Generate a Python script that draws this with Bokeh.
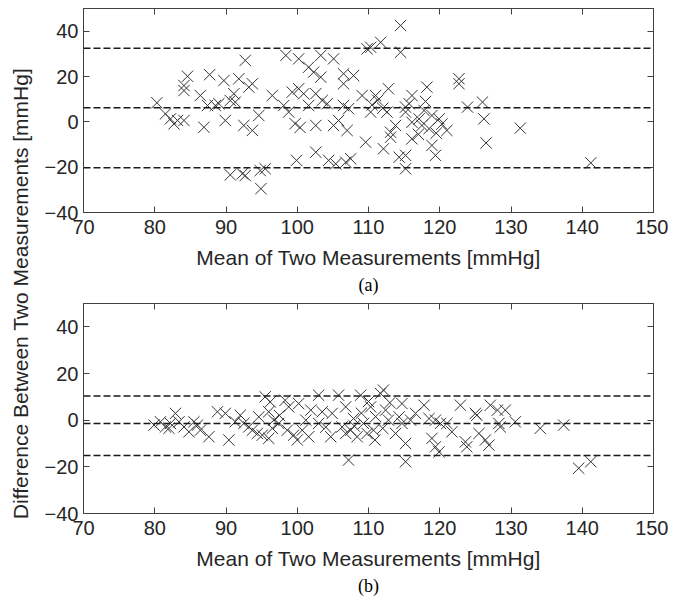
import numpy as np
from bokeh.plotting import figure
from bokeh.models import Range1d, FixedTicker, LinearAxis, Span, Title, CustomJSTickFormatter, Label
from bokeh.layouts import column, row
from bokeh.embed import file_html
from bokeh.resources import INLINE

# ---- data (a) ----
a_mean = [80.3, 81.5, 82.2, 82.7, 84.1, 84.6, 84.1, 84.1, 83.2, 86.9, 86.4, 87.4, 87.7, 88.5, 89.0,
          89.7, 89.9, 90.6, 91.1, 91.8, 91.3, 90.6, 92.3, 92.5, 92.7, 92.7, 93.2, 93.7, 93.7, 94.6,
          94.8, 95.5, 94.9, 96.5, 98.1, 98.4, 98.8, 99.3, 99.9, 99.7, 100.2, 100.2, 100.4,
          101.6, 102.3, 103.3, 103.3, 101.6, 100.9, 102.6, 103.5, 104.2, 102.6, 102.6, 105.1, 104.4,
          105.4, 105.1, 105.8, 106.5, 106.5, 107.9, 106.5, 107.2, 107.0, 106.8, 107.5, 109.1, 109.6,
          110.3, 109.8, 110.3, 111.7, 111.0, 112.1, 112.8, 112.6, 113.1, 114.5, 114.5, 114.3, 115.2,
          115.2, 113.8, 115.7, 116.1, 115.2, 116.1, 117.1, 117.5, 118.2, 118.9, 118.9, 119.4, 119.9,
          116.1, 113.1, 115.2, 121.0, 122.7, 122.7, 123.9, 126.0, 126.2, 126.5, 131.3, 141.2,
          117.8, 118.5, 117.0, 119.5, 120.3, 118.0, 110.5, 111.3, 112.0]
a_diff = [8.4, 3.5, 1.3, -0.9, 0.6, 20.1, 16.0, 13.8, 0.6, -2.4, 11.6, 7.2, 20.8, 7.2, 8.0,
          18.2, 0.6, 9.4, 12.4, 19.0, 8.7, -23.4, -22.9, -1.6, -23.7, 27.1, 15.3, 16.8, -3.8, 2.8,
          -21.5, -20.7, -29.5, 11.6, 7.2, 29.3, 4.3, 13.1, -17.0, -0.8, 27.8, 14.6, -2.5,
          24.1, 21.9, 29.3, 19.7, 7.2, 12.4, 12.4, 9.4, 8.0, -1.6, -13.4, 27.8, -17.0,
          -18.5, -1.6, 0.6, 21.2, 16.8, 20.4, 7.2, 5.8, -3.8, -17.8, -16.3, 11.6, -9.0,
          4.3, 32.2, 32.9, 35.1, 11.6, -11.9, 14.6, 4.3, -4.6, 42.5, 30.7, -15.6, -14.8,
          -20.7, -1.6, 8.0, 11.6, 4.3, -0.2, 1.3, -1.6, 15.3, 2.8, -10.4, -14.8, 1.3,
          -7.5, -6.8, 6.5, -3.8, 19.0, 16.8, 6.5, 8.7, 1.3, -9.3, -2.8, -18.1,
          5.0, -3.0, -5.5, -5.0, -1.0, 9.0, 7.5, 9.5, 6.0]
a_limits = [32.5, 6.2, -20.3]

# ---- data (b) ----
b_mean = [79.9, 80.8, 81.5, 82.2, 82.9, 82.0, 83.4, 84.1, 84.8, 85.5, 86.0, 86.4, 87.6, 88.8, 89.9,
          90.4, 91.3, 92.0, 92.5, 93.2, 93.7, 94.4, 95.1, 96.0, 95.5, 96.2, 94.6, 96.0, 96.7, 97.4,
          98.3, 98.8, 98.6, 99.5, 100.2, 100.7, 101.2, 101.9, 103.0, 103.0, 104.7, 105.8, 104.9,
          106.8, 107.2, 107.5, 107.9, 108.4, 108.9, 109.3, 109.8, 110.3, 110.7, 111.7, 112.1, 112.4,
          112.8, 113.8, 114.3, 114.7, 115.2, 115.2, 115.9, 116.6, 117.8, 118.5, 118.9, 119.4, 119.9,
          120.1, 119.4, 106.3, 106.8, 101.6, 100.0, 110.9, 114.7, 121.0, 121.7, 122.9, 123.6, 123.8,
          125.0, 125.2, 125.5, 126.4, 126.9, 127.1, 128.1, 128.3, 128.5, 129.2, 130.6, 134.1, 137.4,
          139.5, 141.2,
          103.5, 104.0, 108.0, 109.0, 111.0, 112.0, 113.0, 110.0, 96.5, 97.5]
b_diff = [-2.1, -0.7, -2.9, -1.4, 2.9, -3.5, -0.7, -2.9, -5.0, -0.7, -2.1, -4.3, -7.1, 3.6, 2.9,
          -8.5, -0.7, 2.1, -1.4, -2.9, -4.3, -5.7, -6.4, -7.8, 10.0, 7.8, 1.4, 3.6, 0.0, -1.4,
          8.5, 5.7, -4.3, -6.4, 7.1, -4.3, 0.0, 4.3, 10.7, -1.4, -7.1, 10.7, 2.9,
          5.7, -17.1, -4.3, 0.7, -7.1, 10.7, -1.4, -5.7, 5.7, -4.3, 11.4, 12.9, 4.3,
          0.0, -5.7, 1.4, 7.1, -10.0, -17.8, 0.0, 2.9, 6.4, 0.7, -7.8, -11.4, -13.6,
          -1.4, 0.0, -2.9, -5.7, -7.1, -8.5, -8.5, -1.4, -1.4, -5.0, 6.4, -9.3, -11.4,
          2.9, 2.1, -5.7, -8.5, -10.7, 6.4, 4.3, -1.4, -2.9, 4.3, -0.7, -3.5, -2.1,
          -20.6, -17.8,
          3.6, -3.0, -2.5, 3.0, 1.5, -3.5, 7.5, 8.0, -3.5, 2.0]
b_limits = [10.4, -1.4, -15.1]

x_ticks = [70, 80, 90, 100, 110, 120, 130, 140, 150]
y_ticks = [-40, -20, 0, 20, 40]
x_label = "Mean of Two Measurements [mmHg]"
y_label = "Difference Between Two Measurements [mmHg]"

FONT = "Liberation Sans"
SERIF = "Liberation Serif"
AX = "#262626"
FRAME = "#404040"


def blank_axis(ticks):
    return LinearAxis(ticker=FixedTicker(ticks=ticks), formatter=CustomJSTickFormatter(code="return ''"),
                      major_label_text_font_size="0px", major_tick_in=6, major_tick_out=0,
                      minor_tick_line_color=None, axis_line_color=FRAME, major_tick_line_color=FRAME,
                      major_label_standoff=0)


def panel(xs, ys, limits, caption, frame_h, top_b, bottom_b):
    p = figure(frame_width=570, frame_height=frame_h, x_range=Range1d(70, 150), y_range=Range1d(-40, 50),
               output_backend="svg", toolbar_location=None, min_border_left=45, min_border_right=15,
               min_border_top=top_b, min_border_bottom=bottom_b)
    p.grid.visible = False
    p.outline_line_color = FRAME
    p.background_fill_color = "white"
    p.border_fill_color = "white"
    p.xaxis.ticker = FixedTicker(ticks=x_ticks)
    p.yaxis.ticker = FixedTicker(ticks=y_ticks)
    for ax in (p.xaxis[0], p.yaxis[0]):
        ax.major_tick_in = 6
        ax.major_tick_out = 0
        ax.minor_tick_line_color = None
        ax.axis_line_color = FRAME
        ax.major_tick_line_color = FRAME
        ax.major_label_text_font = FONT
        ax.major_label_text_font_size = "20px"
        ax.major_label_text_color = AX
    p.xaxis.major_label_standoff = 7
    p.yaxis.major_label_standoff = 5
    p.xaxis.axis_label = x_label
    p.xaxis.axis_label_text_font = FONT
    p.xaxis.axis_label_text_font_size = "21px"
    p.xaxis.axis_label_text_font_style = "normal"
    p.xaxis.axis_label_text_color = AX
    p.xaxis.axis_label_standoff = 9

    p.add_layout(blank_axis(x_ticks), "above")
    p.add_layout(blank_axis(y_ticks), "right")

    for v in limits:
        p.add_layout(Span(location=v, dimension="width", line_color="#1a1a1a", line_width=1.5,
                          line_dash="7 3"))
    p.scatter(xs, ys, marker="x", size=16, line_color="#333333", line_width=1)

    p.add_layout(Title(text=caption, align="center", text_font=SERIF, text_font_size="18px",
                       text_font_style="normal", text_color="black", standoff=3), "below")
    return p


pa = panel(a_mean, a_diff, a_limits, "(a)", 204, 8, 88)
pb = panel(b_mean, b_diff, b_limits, "(b)", 210, 3, 84)

H = 597
lab = figure(width=38, height=H, x_range=Range1d(0, 38), y_range=Range1d(0, H),
             output_backend="svg", toolbar_location=None, min_border=0,
             x_axis_location=None, y_axis_location=None)
lab.grid.visible = False
lab.outline_line_color = None
lab.add_layout(Label(x=20, y=H - 293, text=y_label, angle=np.pi / 2, text_align="center",
                     text_baseline="middle", text_font=FONT, text_font_size="21px", text_color=AX))

layout = row(lab, column(pa, pb))
open("out.html", "w").write(file_html(layout, INLINE))
